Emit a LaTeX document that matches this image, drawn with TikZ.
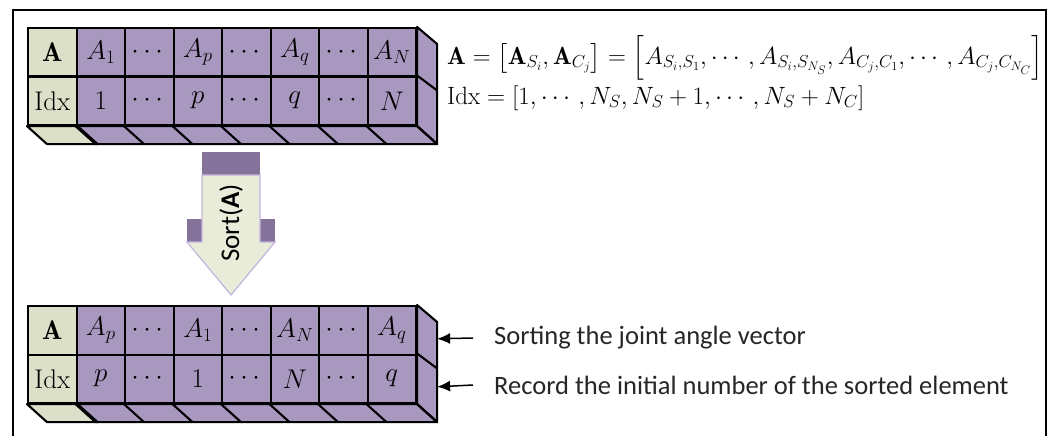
\RequirePackage{fix-cm}
\documentclass[tikz,border=0pt]{standalone}
\usepackage{amsmath}
\usepackage{fontspec}
\newfontfamily\calib{Carlito}
\usetikzlibrary{arrows.meta}
\definecolor{cellpurple}{RGB}{168,152,192}
\definecolor{cellgreen}{RGB}{221,224,200}
\definecolor{arrowlight}{RGB}{232,236,216}
\definecolor{arrowdark}{RGB}{133,115,155}
\definecolor{arrowedge}{RGB}{195,180,222}
\tikzset{
  cell/.style={draw=black, line width=2.1pt, minimum width=48.5pt, minimum height=48.5pt,
    inner sep=0pt, anchor=north west, fill=cellpurple, font=\fontsize{27}{29}\selectfont},
  headcell/.style={cell, fill=cellgreen},
  face/.style={draw=black, line width=2.1pt, line join=round},
  eq/.style={anchor=west, inner sep=0pt},
  lab/.style={anchor=west, inner sep=0pt, font=\calib\fontsize{26.5}{29}\selectfont, text=black!85},
  ptr/.style={-{Latex[length=13pt,width=11pt]}, line width=1.5pt},
  frame/.style={line width=2pt}
}
\newcommand\cellarray[3]{% #1 prefix, #2 top y, #3 list
  \node[headcell] (#1-1-0) at (27,#2) {$\mathbf{A}$};
  \node[headcell] (#1-2-0) at (27,#2+48.5) {Idx};
  \foreach \k/\a/\b in {#3} {
    \node[cell] (#1-1-\k) at (27+48.5*\k,#2) {$\a$};
    \node[cell] (#1-2-\k) at (27+48.5*\k,#2+48.5) {$\b$};
  }
  % right face
  \filldraw[face, fill=cellpurple] (#1-1-7.north east) -- ++(20,17) -- ([shift={(20,18)}]#1-2-7.south east) -- (#1-2-7.south east) -- cycle;
  \draw[face] (#1-2-7.north east) -- ++(20,15);
  % bottom face
  \filldraw[face, fill=cellpurple] (#1-2-1.south west) -- (#1-2-7.south east) -- ++(20,18) -- ([shift={(20,18)}]#1-2-1.south west) -- cycle;
  \filldraw[face, fill=cellgreen] (#1-2-0.south west) -- (#1-2-0.south east) -- ++(20,18) -- ([shift={(20,18)}]#1-2-0.south west) -- cycle;
  \foreach \k in {1,...,7} {\draw[face] (#1-2-\k.south west) -- ++(20,18);}
  \draw[face] (#1-2-7.south east) -- ++(20,18);
  \coordinate (#1-r1) at ([shift={(20,8.5)}]#1-1-7.east);
  \coordinate (#1-r2) at ([shift={(20,8)}]#1-2-7.east);
}
\begin{document}
\begin{tikzpicture}[x=1pt,y=-1pt]
\useasboundingbox (0,0) rectangle (1055,436);
% frame
\draw[frame] (13,437) -- (13,10) -- (1046,10) -- (1046,437);
% top array
\cellarray{T}{27}{1/A_1/1, 2/\cdots/\cdots, 3/A_p/p, 4/\cdots/\cdots, 5/A_q/q, 6/\cdots/\cdots, 7/A_N/N}
% bottom array
\cellarray{B}{305}{1/A_p/p, 2/\cdots/\cdots, 3/A_1/1, 4/\cdots/\cdots, 5/A_N/N, 6/\cdots/\cdots, 7/A_q/q}
% equations
\node[eq, font=\fontsize{24.8}{27}\selectfont] (eq1) at (447,58) {$\mathbf{A}=\left[\mathbf{A}_{S_i},\mathbf{A}_{C_j}\right]=\left[A_{S_i,S_1},\cdots,A_{S_i,S_{N_S}},A_{C_j,C_1},\cdots,A_{C_j,C_{N_C}}\right]$};
\node[eq, font=\fontsize{25}{28}\selectfont] (eq2) at (447,98) {$\mathrm{Idx}=[1,\cdots,N_S,N_S+1,\cdots,N_S+N_C]$};
% sort arrow
\fill[arrowdark] (202,152) rectangle (260,176);
\fill[arrowdark] (187,219) rectangle (203,242);
\fill[arrowdark] (259,219) rectangle (275,242);
\filldraw[fill=arrowlight, draw=arrowedge, line width=1.2pt, line join=miter]
  (202,175) -- (260,175) -- (260,242) -- (275,242) -- (231,295) -- (187,242) -- (202,242) -- cycle;
\node[rotate=90, inner sep=0pt, font=\calib\fontsize{27}{30}\selectfont] (sort) at (231,223) {Sort(\textbf{A})};
% labels
\node[lab] (lab1) at (494,338) {Sorting the joint angle vector};
\node[lab] (lab2) at (494,385) {Record the initial number of the sorted element};
\draw[ptr] ([xshift=-21pt]lab1.west) -- (B-r1);
\draw[ptr] ([xshift=-21pt]lab2.west) -- (B-r2);
\end{tikzpicture}
\end{document}
